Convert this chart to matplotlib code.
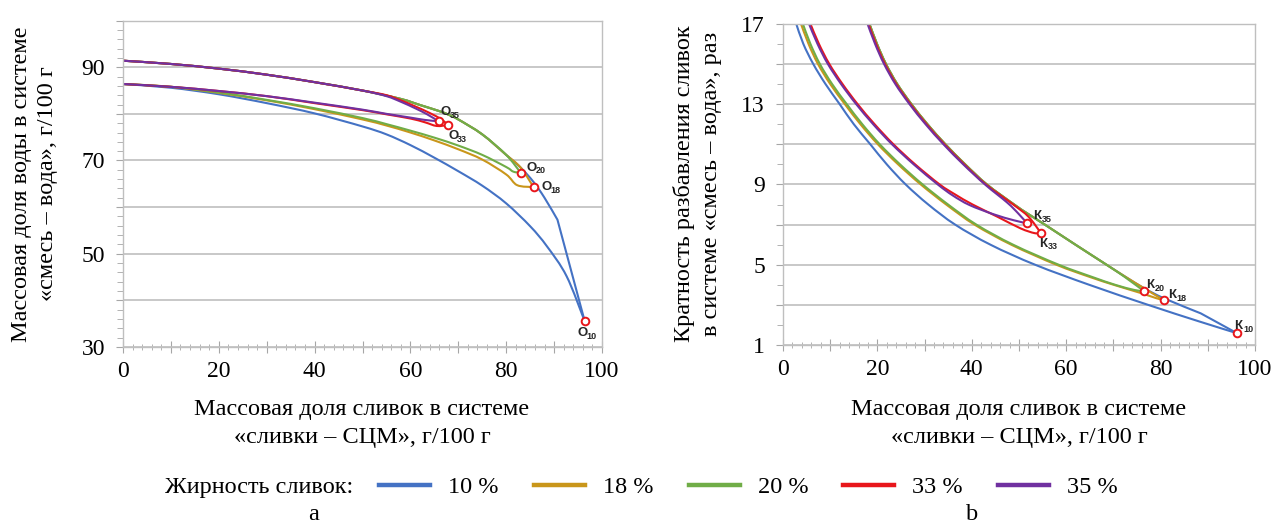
import matplotlib
matplotlib.use('Agg')
import numpy as np
import matplotlib.pyplot as plt
from matplotlib.ticker import MultipleLocator, FixedLocator, FuncFormatter
from matplotlib.lines import Line2D
from matplotlib.path import Path
from matplotlib.patches import PathPatch

plt.rcParams['font.family'] = ['Liberation Serif', 'DejaVu Serif']

# ---------------- data: left chart (water fraction, g/100 g) ----------------
w10_up_x = [0, 10, 20, 30, 40, 50, 58, 62, 66, 68, 70, 75, 80, 83, 85.7, 88, 90.7, 96.4]
w10_up_y = [91.4, 90.7, 89.7, 88.4, 86.8, 85.0, 83.2, 81.9, 80.6, 79.8, 78.8, 75.6, 71.2, 68.5, 65.4, 62.0, 57.3, 35.5]
w18_up_x = [0, 10, 20, 30, 40, 50, 58, 62, 66, 68, 70, 75, 80, 83, 85.7]
w18_up_y = [91.4, 90.7, 89.7, 88.4, 86.8, 85.0, 83.2, 81.9, 80.6, 79.8, 78.8, 75.6, 71.2, 68.5, 64.3]
w20_up_x = [0, 10, 20, 30, 40, 50, 58, 62, 66, 68, 70, 75, 80, 83.0]
w20_up_y = [91.4, 90.7, 89.7, 88.4, 86.8, 85.0, 83.2, 81.9, 80.6, 79.8, 78.8, 75.6, 71.2, 67.4]
w33_up_x = [0, 10, 20, 30, 40, 50, 55, 58, 61, 64, 66.5, 67.85]
w33_up_y = [91.4, 90.7, 89.7, 88.4, 86.8, 85.0, 84.0, 82.9, 81.6, 80.2, 78.8, 77.6]
w35_up_x = [0, 10, 20, 30, 40, 50, 55, 58, 61, 63.5, 65.9]
w35_up_y = [91.4, 90.7, 89.7, 88.4, 86.8, 85.0, 83.8, 82.6, 81.2, 79.9, 78.4]

w10_lo_x = [0, 10, 20, 30, 40, 50, 55, 60, 65, 70, 75, 80, 85, 88.5, 92.6, 96.4]
w10_lo_y = [86.4, 85.6, 84.2, 82.3, 80.1, 77.3, 75.6, 73.3, 70.6, 67.7, 64.6, 60.8, 55.9, 51.6, 45.2, 35.5]
w18_lo_x = [0, 10, 20, 30, 40, 50, 55, 60, 65, 70, 75, 80, 82.3, 85.7]
w18_lo_y = [86.4, 85.8, 84.5, 82.9, 81.0, 78.8, 77.5, 76.0, 74.3, 72.4, 70.2, 67.0, 64.7, 64.3]
w20_lo_x = [0, 10, 20, 30, 40, 50, 55, 60, 65, 70, 75, 80, 81.5, 83.0]
w20_lo_y = [86.4, 85.8, 84.6, 83.0, 81.2, 79.1, 77.8, 76.4, 74.9, 73.2, 71.2, 68.6, 67.6, 67.4]
w33_lo_x = [0, 10, 20, 30, 40, 50, 55, 60, 63, 65.5, 67.85]
w33_lo_y = [86.4, 85.8, 84.9, 83.8, 82.3, 80.8, 79.9, 79.0, 78.2, 77.4, 77.6]
w35_lo_x = [0, 10, 20, 30, 40, 50, 55, 60, 63, 65.9]
w35_lo_y = [86.4, 85.8, 84.9, 83.8, 82.4, 80.9, 80.0, 79.2, 78.7, 78.4]

# end points O
o_names = ['10', '18', '20', '33', '35']
o_x = [96.4, 85.7, 83.0, 67.85, 65.9]
o_y = [35.5, 64.3, 67.4, 77.6, 78.4]

# ---------------- data: right chart (dilution ratio, times) ----------------
k10_up_x = [18.3, 19.9, 21.8, 24.2, 27.2, 30.6, 34.4, 38.6, 43.2, 49.0, 51.7, 55.5, 62.0, 68.6, 72.6, 76.5, 80.7, 88.5, 96.2]
k10_up_y = [17, 16, 15, 14, 13, 12, 11, 10, 9, 8.0, 7.57, 7.0, 6.0, 5.0, 4.4, 3.84, 3.34, 2.59, 1.60]
k18_up_x = [18.3, 19.9, 21.8, 24.2, 27.2, 30.6, 34.4, 38.6, 43.2, 49.0, 51.7, 55.5, 62.0, 68.6, 72.6, 76.5, 80.7]
k18_up_y = [17, 16, 15, 14, 13, 12, 11, 10, 9, 8.0, 7.57, 7.0, 6.0, 5.0, 4.4, 3.84, 3.24]
k20_up_x = [18.3, 19.9, 21.8, 24.2, 27.2, 30.6, 34.4, 38.6, 43.2, 49.0, 51.7, 55.5, 62.0, 68.6, 72.4, 76.5]
k20_up_y = [17, 16, 15, 14, 13, 12, 11, 10, 9, 8.0, 7.57, 7.0, 6.0, 5.0, 4.4, 3.69]
k33_up_x = [18.1, 19.7, 21.6, 24.0, 27.0, 30.4, 34.2, 38.4, 43.0, 48.8, 52.0, 54.6]
k33_up_y = [17, 16, 15, 14, 13, 12, 11, 10, 9, 8.0, 7.4, 6.6]
k35_up_x = [17.9, 19.5, 21.4, 23.8, 26.8, 30.2, 34.0, 38.2, 42.8, 47.5, 49.8, 51.7]
k35_up_y = [17, 16, 15, 14, 13, 12, 11, 10, 9, 8.1, 7.57, 7.07]

k10_lo_x = [2.8, 4.3, 6.4, 9.0, 12.0, 15.0, 18.5, 22.0, 26.0, 30.8, 36.5, 44.0, 53.5, 65.0, 77.5, 88.0, 96.2]
k10_lo_y = [17, 16, 15, 14, 13, 12, 11, 10, 9, 8, 7, 6, 5, 4, 3, 2.2, 1.6]
k18_lo_x = [3.8, 5.4, 7.4, 10.0, 13.1, 16.4, 20.1, 24.4, 29.2, 34.6, 40.6, 48.4, 58.0, 65.0, 70.2, 75.8, 79.0, 80.7]
k18_lo_y = [17, 16, 15, 14, 13, 12, 11, 10, 9, 8, 7, 6, 5, 4.4, 4.0, 3.6, 3.35, 3.24]
k20_lo_x = [4.2, 5.8, 7.8, 10.4, 13.5, 16.8, 20.5, 24.8, 29.6, 35.0, 41.0, 48.8, 58.5, 65.5, 70.5, 74.5, 76.5]
k20_lo_y = [17, 16, 15, 14, 13, 12, 11, 10, 9, 8, 7, 6, 5, 4.4, 4.0, 3.75, 3.69]
k33_lo_x = [5.8, 7.6, 9.8, 12.6, 15.8, 19.4, 23.4, 28.0, 33.2, 36.5, 40.2, 45.4, 50.3, 53.3, 54.6]
k33_lo_y = [17, 16, 15, 14, 13, 12, 11, 10, 9, 8.5, 8.0, 7.4, 6.82, 6.58, 6.6]
k35_lo_x = [5.5, 7.3, 9.5, 12.3, 15.5, 19.1, 23.1, 27.7, 32.8, 36.0, 39.5, 44.6, 48.9, 51.7]
k35_lo_y = [17, 16, 15, 14, 13, 12, 11, 10, 9, 8.45, 7.98, 7.52, 7.22, 7.07]

k_x = [96.2, 80.7, 76.5, 54.6, 51.7]
k_y = [1.60, 3.24, 3.69, 6.6, 7.07]

legend_labels = ['10 %', '18 %', '20 %', '33 %', '35 %']
colors = ['#4472C4', '#C9961A', '#70AD47', '#E8161B', '#7030A0']

# ---------------- figure ----------------
W, H = 1275, 524
fig = plt.figure(figsize=(W / 100, H / 100), dpi=100)


def axrect(x0, x1, ytop, ybot):
    return [x0 / W, 1 - ybot / H, (x1 - x0) / W, (ybot - ytop) / H]


axL = fig.add_axes(axrect(123, 602, 20.6, 347))
axR = fig.add_axes(axrect(783, 1255, 23.7, 345.3))

grid_c = '#BFBFBF'
FS_T = 17      # tick labels
FS = 17.5      # titles, legend

for ax in (axL, axR):
    ax.set_xlim(0, 100)
    ax.xaxis.set_major_locator(MultipleLocator(10))
    ax.xaxis.set_minor_locator(MultipleLocator(2))
    ax.xaxis.set_major_formatter(FuncFormatter(lambda v, p: f'{v:.0f}' if round(v) % 20 == 0 else ''))
    for s in ax.spines.values():
        s.set_color(grid_c)
        s.set_linewidth(1.0)
    ax.tick_params(axis='both', which='both', colors='#A6A6A6', labelcolor='black', labelsize=FS_T)
    ax.tick_params(axis='x', which='major', direction='inout', length=8, pad=6)
    ax.tick_params(axis='x', which='minor', direction='inout', length=4)
    ax.tick_params(axis='y', which='major', direction='out', length=5, pad=8)
    ax.tick_params(axis='y', which='minor', direction='out', length=4)
    ax.grid(axis='y', which='major', color=grid_c, lw=1.2)
    ax.set_axisbelow(True)

axL.set_ylim(30, 100)
axL.yaxis.set_major_locator(MultipleLocator(10))
axL.yaxis.set_minor_locator(MultipleLocator(2))
axL.yaxis.set_major_formatter(FuncFormatter(lambda v, p: f'{v:.0f}' if (round(v) - 30) % 20 == 0 and v < 95 else ''))

axR.set_ylim(1, 17)
axR.yaxis.set_major_locator(FixedLocator(list(range(1, 18, 2))))
axR.yaxis.set_minor_locator(FixedLocator(list(range(1, 18))))
axR.yaxis.set_major_formatter(FuncFormatter(lambda v, p: f'{v:.0f}' if (round(v) - 1) % 4 == 0 else ''))


def smooth_line(ax, xs, ys, color, lw, z, corner=None):
    """Excel-like smoothed line: cubic Bezier through the data points.
    corner: index of a point where the line breaks (kink)."""
    P = np.column_stack([xs, ys]).astype(float)
    n = len(P)
    verts = [P[0]]
    codes = [Path.MOVETO]
    for i in range(n - 1):
        p0 = P[i - 1] if (i > 0 and i != corner) else P[i]
        p1, p2 = P[i], P[i + 1]
        p3 = P[i + 2] if (i + 2 < n and i + 1 != corner) else P[i + 1]
        verts += [p1 + (p2 - p0) / 6.0, p2 - (p3 - p1) / 6.0, p2]
        codes += [Path.CURVE4] * 3
    ax.add_patch(PathPatch(Path(verts, codes), facecolor='none', edgecolor=color, lw=lw,
                           capstyle='round', joinstyle='round', zorder=z))


lw = 1.5
left_up = [(w10_up_x, w10_up_y), (w18_up_x, w18_up_y), (w20_up_x, w20_up_y), (w33_up_x, w33_up_y), (w35_up_x, w35_up_y)]
left_lo = [(w10_lo_x, w10_lo_y), (w18_lo_x, w18_lo_y), (w20_lo_x, w20_lo_y), (w33_lo_x, w33_lo_y), (w35_lo_x, w35_lo_y)]
right_up = [(k10_up_x, k10_up_y), (k18_up_x, k18_up_y), (k20_up_x, k20_up_y), (k33_up_x, k33_up_y), (k35_up_x, k35_up_y)]
right_lo = [(k10_lo_x, k10_lo_y), (k18_lo_x, k18_lo_y), (k20_lo_x, k20_lo_y), (k33_lo_x, k33_lo_y), (k35_lo_x, k35_lo_y)]

for i, c in enumerate(colors):
    for ax, ups, los in ((axL, left_up, left_lo), (axR, right_up, right_lo)):
        ux, uy = ups[i]
        kink = len(ux) - 2 if i == 0 else None   # 10 % upper branch has a break before the end point
        smooth_line(ax, ux, uy, color=c, lw=lw, z=2 + i * 0.1, corner=kink)
        smooth_line(ax, *los[i], color=c, lw=lw, z=2 + i * 0.1)

mk = dict(marker='o', ms=5.5, mfc='white', mec='#E8161B', mew=1.4, ls='none', zorder=5)
axL.plot(o_x, o_y, **mk)
axR.plot(k_x, k_y, **mk)

# marker labels (offsets in pixels)
o_off = {'10': (-7, -12), '18': (8, 0), '20': (6, 5), '33': (0, -11), '35': (2, 9)}
k_off = {'10': (-3, 7), '18': (4, 5), '20': (2, 6), '33': (-2, -11), '35': (6, 7)}


def sublabel(ax, letter, sub, x, y, off):
    ax.annotate(letter, xy=(x, y), xytext=off, textcoords='offset pixels',
                ha='left', va='center', fontsize=9.5, fontweight='bold',
                family=['Liberation Sans', 'DejaVu Sans'], color='#262626', zorder=6)
    ax.annotate(sub, xy=(x, y), xytext=(off[0] + 9, off[1] - 3), textcoords='offset pixels',
                ha='left', va='center', fontsize=6.5, fontweight='bold',
                family=['Liberation Sans', 'DejaVu Sans'], color='#262626', zorder=6)


for n, x, y in zip(o_names, o_x, o_y):
    sublabel(axL, 'О', n, x, y, o_off[n])
for n, x, y in zip(o_names, k_x, k_y):
    sublabel(axR, 'К', n, x, y, k_off[n])

# axis titles
fig.text(362 / W, 1 - 410 / H, 'Массовая доля сливок в системе', ha='center', va='center', fontsize=FS)
fig.text(362 / W, 1 - 438 / H, '«сливки – СЦМ», г/100 г', ha='center', va='center', fontsize=FS)
fig.text(1019 / W, 1 - 410 / H, 'Массовая доля сливок в системе', ha='center', va='center', fontsize=FS)
fig.text(1019 / W, 1 - 438 / H, '«сливки – СЦМ», г/100 г', ha='center', va='center', fontsize=FS)

fig.text(22 / W, 1 - 184 / H, 'Массовая доля воды в системе', rotation=90, ha='center', va='center', fontsize=FS)
fig.text(48 / W, 1 - 184 / H, '«смесь – вода», г/100 г', rotation=90, ha='center', va='center', fontsize=FS)
fig.text(684 / W, 1 - 184 / H, 'Кратность разбавления сливок', rotation=90, ha='center', va='center', fontsize=FS)
fig.text(711 / W, 1 - 184 / H, 'в системе «смесь – вода», раз', rotation=90, ha='center', va='center', fontsize=FS)

# legend
fig.text(165 / W, 1 - 487 / H, 'Жирность сливок:', ha='left', va='center', fontsize=FS)
handles = [Line2D([], [], color=c, lw=3.2) for c in colors]
fig.legend(handles, legend_labels, loc='center left', bbox_to_anchor=(379 / W, 1 - 487 / H),
           ncol=5, frameon=False, fontsize=FS, borderpad=0, borderaxespad=0,
           handlelength=2.1, handletextpad=0.74, columnspacing=1.45)

fig.text(314 / W, 1 - 514 / H, 'a', ha='center', va='center', fontsize=FS)
fig.text(972 / W, 1 - 514 / H, 'b', ha='center', va='center', fontsize=FS)

fig.savefig('out.png', dpi=100)
